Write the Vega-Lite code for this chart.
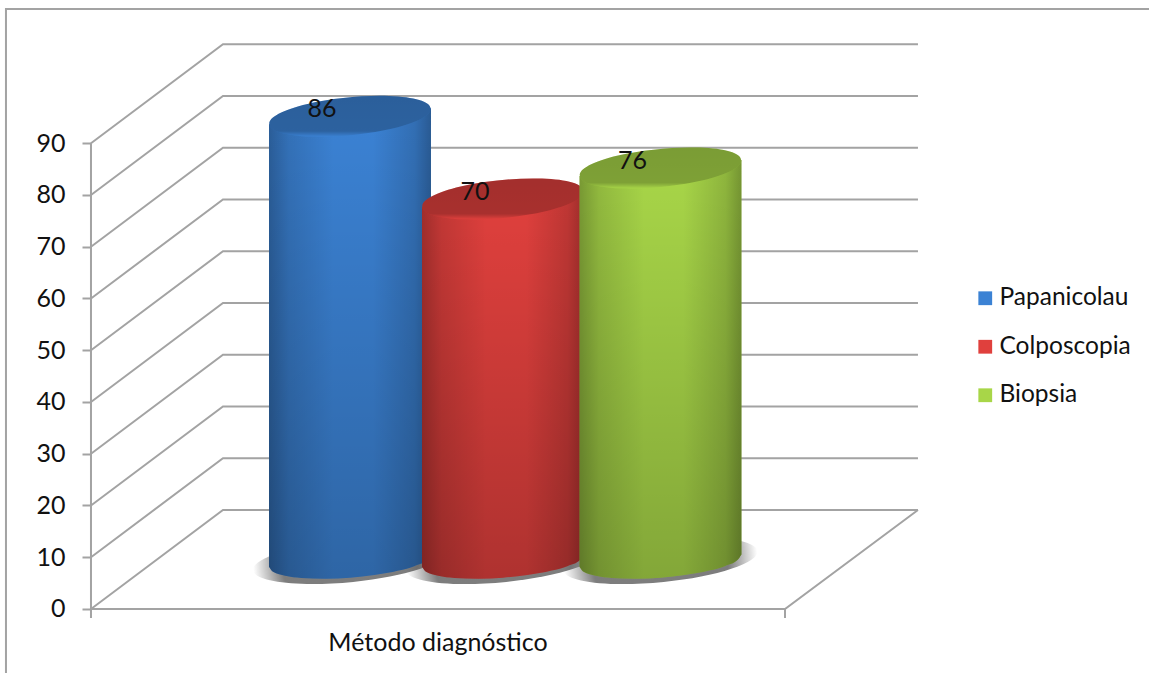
{"$schema":"https://vega.github.io/schema/vega-lite/v6.json","width":1149,"height":673,"padding":0,"autosize":{"type":"fit","contains":"padding"},"background":"white","config":{"view":{"stroke":null},"font":"Lato","legend":{"orient":"none","legendX":973,"legendY":286,"title":null,"symbolType":"square","symbolSize":190,"symbolOpacity":1,"symbolStrokeWidth":0,"labelFontSize":24.5,"labelFont":"Lato","labelColor":"#111111","labelOffset":2,"rowPadding":23.5}},"datasets":{"rejilla":[{"linea":"marco","pos":-12.25,"alto":-12.37},{"linea":"marco","pos":-12.25,"alto":115.94},{"linea":"marco","pos":152.45,"alto":115.94},{"linea":"eje","pos":0,"alto":90},{"linea":"eje","pos":0,"alto":-1.74},{"linea":"pie","pos":100,"alto":0},{"linea":"pie","pos":100,"alto":-1.74},{"linea":"suelo","pos":119.16,"alto":19.13},{"linea":"suelo","pos":100,"alto":0},{"linea":"suelo","pos":0,"alto":0},{"linea":"v0","pos":0,"alto":0},{"linea":"v0","pos":19.02,"alto":19.13},{"linea":"v0","pos":119.16,"alto":19.13},{"linea":"v10","pos":0,"alto":10},{"linea":"v10","pos":19.02,"alto":29.13},{"linea":"v10","pos":119.16,"alto":29.13},{"linea":"v20","pos":0,"alto":20},{"linea":"v20","pos":19.02,"alto":39.13},{"linea":"v20","pos":119.16,"alto":39.13},{"linea":"v30","pos":0,"alto":30},{"linea":"v30","pos":19.02,"alto":49.13},{"linea":"v30","pos":119.16,"alto":49.13},{"linea":"v40","pos":0,"alto":40},{"linea":"v40","pos":19.02,"alto":59.13},{"linea":"v40","pos":119.16,"alto":59.13},{"linea":"v50","pos":0,"alto":50},{"linea":"v50","pos":19.02,"alto":69.13},{"linea":"v50","pos":119.16,"alto":69.13},{"linea":"v60","pos":0,"alto":60},{"linea":"v60","pos":19.02,"alto":79.13},{"linea":"v60","pos":119.16,"alto":79.13},{"linea":"v70","pos":0,"alto":70},{"linea":"v70","pos":19.02,"alto":89.13},{"linea":"v70","pos":119.16,"alto":89.13},{"linea":"v80","pos":0,"alto":80},{"linea":"v80","pos":19.02,"alto":99.13},{"linea":"v80","pos":119.16,"alto":99.13},{"linea":"v90","pos":0,"alto":90},{"linea":"v90","pos":19.02,"alto":109.13},{"linea":"v90","pos":119.16,"alto":109.13}],"cilindros":[{"metodo":"Papanicolau","lado":-1,"pos":25.65,"alto":84.45,"base":-1.2},{"metodo":"Papanicolau","lado":-0.95,"pos":26.23,"alto":84.53,"base":-2.17},{"metodo":"Papanicolau","lado":-0.8,"pos":27.98,"alto":84.76,"base":-2.94},{"metodo":"Papanicolau","lado":-0.6,"pos":30.32,"alto":85.07,"base":-3.36},{"metodo":"Papanicolau","lado":-0.3,"pos":33.82,"alto":85.54,"base":-3.51},{"metodo":"Papanicolau","lado":0,"pos":37.32,"alto":86,"base":-3.3},{"metodo":"Papanicolau","lado":0.3,"pos":40.82,"alto":86.47,"base":-2.79},{"metodo":"Papanicolau","lado":0.6,"pos":44.32,"alto":86.93,"base":-1.92},{"metodo":"Papanicolau","lado":0.8,"pos":46.66,"alto":87.24,"base":-1.02},{"metodo":"Papanicolau","lado":0.95,"pos":48.41,"alto":87.47,"base":0.11},{"metodo":"Papanicolau","lado":1,"pos":48.99,"alto":87.55,"base":1.2},{"metodo":"Colposcopia","lado":-1,"pos":47.7,"alto":68.45,"base":-1.2},{"metodo":"Colposcopia","lado":-0.95,"pos":48.28,"alto":68.53,"base":-2.17},{"metodo":"Colposcopia","lado":-0.8,"pos":50.03,"alto":68.76,"base":-2.94},{"metodo":"Colposcopia","lado":-0.6,"pos":52.37,"alto":69.07,"base":-3.36},{"metodo":"Colposcopia","lado":-0.3,"pos":55.87,"alto":69.54,"base":-3.51},{"metodo":"Colposcopia","lado":0,"pos":59.37,"alto":70,"base":-3.3},{"metodo":"Colposcopia","lado":0.3,"pos":62.87,"alto":70.47,"base":-2.79},{"metodo":"Colposcopia","lado":0.6,"pos":66.37,"alto":70.93,"base":-1.92},{"metodo":"Colposcopia","lado":0.8,"pos":68.71,"alto":71.24,"base":-1.02},{"metodo":"Colposcopia","lado":0.95,"pos":70.46,"alto":71.47,"base":0.11},{"metodo":"Colposcopia","lado":1,"pos":71.04,"alto":71.55,"base":1.2},{"metodo":"Biopsia","lado":-1,"pos":70.39,"alto":74.45,"base":-1.2},{"metodo":"Biopsia","lado":-0.95,"pos":70.97,"alto":74.53,"base":-2.17},{"metodo":"Biopsia","lado":-0.8,"pos":72.72,"alto":74.76,"base":-2.94},{"metodo":"Biopsia","lado":-0.6,"pos":75.06,"alto":75.07,"base":-3.36},{"metodo":"Biopsia","lado":-0.3,"pos":78.56,"alto":75.54,"base":-3.51},{"metodo":"Biopsia","lado":0,"pos":82.06,"alto":76,"base":-3.3},{"metodo":"Biopsia","lado":0.3,"pos":85.56,"alto":76.47,"base":-2.79},{"metodo":"Biopsia","lado":0.6,"pos":89.06,"alto":76.93,"base":-1.92},{"metodo":"Biopsia","lado":0.8,"pos":91.4,"alto":77.24,"base":-1.02},{"metodo":"Biopsia","lado":0.95,"pos":93.15,"alto":77.47,"base":0.11},{"metodo":"Biopsia","lado":1,"pos":93.73,"alto":77.55,"base":1.2}]},"resolve":{"scale":{"y":"independent"}},"layer":[{"layer":[{"data":{"name":"rejilla"},"mark":{"type":"line","color":"#a3a3a3","strokeWidth":2,"clip":true},"encoding":{"detail":{"field":"linea"},"x":{"field":"pos","type":"quantitative","scale":{"domain":[-13.11,152.45],"nice":false,"zero":false},"axis":{"values":[0,100],"labels":false,"domain":false,"grid":false,"offset":-64,"tickSize":9,"tickWidth":2,"tickColor":"#a3a3a3","title":null}},"y":{"field":"alto","type":"quantitative","scale":{"domain":[-12.37,117.68],"nice":false,"zero":false},"axis":{"values":[0,10,20,30,40,50,60,70,80,90],"format":"d","title":null,"domain":false,"grid":false,"offset":-91,"tickSize":9,"tickWidth":2,"tickColor":"#a3a3a3","labelPadding":17,"labelFontSize":25,"labelFont":"Lato","labelColor":"#111111"}}}},{"data":{"values":[{"pos":50,"alto":-6.57,"rotulo":"Método diagnóstico"}]},"mark":{"type":"text","font":"Lato","fontSize":25,"color":"#111111","baseline":"middle","align":"center"},"encoding":{"text":{"field":"rotulo"},"x":{"field":"pos","type":"quantitative"},"y":{"field":"alto","type":"quantitative"}}}]},{"data":{"name":"cilindros"},"encoding":{"x":{"field":"pos","type":"quantitative","scale":{"domain":[-13.11,152.45],"nice":false,"zero":false},"axis":null},"y":{"field":"alto","type":"quantitative","scale":{"domain":[-21.74,108.5],"nice":false,"zero":false},"axis":null}},"layer":[{"transform":[{"filter":"datum.lado===0"}],"mark":{"type":"point","shape":"M-0.995,0.1A1,0.22,-5.6,1,1,0.995,-0.1A1,0.22,-5.6,1,1,-0.995,0.1Z","size":38000,"filled":true,"opacity":1,"fill":{"gradient":"radial","x1":0.5,"y1":0.5,"r1":0,"x2":0.5,"y2":0.5,"r2":0.5,"stops":[{"offset":0,"color":"rgba(70,70,70,0.7)"},{"offset":0.7,"color":"rgba(70,70,70,0.7)"},{"offset":1,"color":"rgba(70,70,70,0)"}]}},"encoding":{"y":{"datum":0,"type":"quantitative"}}},{"transform":[{"filter":"datum.metodo==='Papanicolau'"}],"layer":[{"mark":{"type":"area","orient":"vertical","interpolate":"monotone"},"encoding":{"y2":{"field":"base"},"color":{"field":"metodo","type":"nominal","scale":{"domain":["Papanicolau","Colposcopia","Biopsia"],"range":["#3b82d4","#e0403d","#a8d648"]},"legend":{}}}},{"mark":{"type":"area","orient":"vertical","interpolate":"monotone","fill":{"gradient":"linear","x1":0,"y1":0,"x2":1,"y2":0,"stops":[{"offset":0,"color":"rgba(0,0,0,0.28)"},{"offset":0.12,"color":"rgba(0,0,0,0.13)"},{"offset":0.4,"color":"rgba(0,0,0,0)"},{"offset":0.64,"color":"rgba(0,0,0,0)"},{"offset":0.9,"color":"rgba(0,0,0,0.15)"},{"offset":1,"color":"rgba(0,0,0,0.3)"}]}},"encoding":{"y2":{"field":"base"}}},{"mark":{"type":"area","orient":"vertical","interpolate":"monotone","fill":{"gradient":"linear","x1":0,"y1":0,"x2":0,"y2":1,"stops":[{"offset":0,"color":"rgba(0,0,0,0)"},{"offset":1,"color":"rgba(0,0,0,0.22)"}]}},"encoding":{"y2":{"field":"base"}}},{"transform":[{"filter":"datum.lado===0"}],"mark":{"type":"point","shape":"M-0.995,0.098A1,0.23,-5.6,1,1,0.995,-0.098A1,0.23,-5.6,1,1,-0.995,0.098Z","size":26244,"filled":true,"opacity":1},"encoding":{"color":{"field":"metodo","type":"nominal"}}},{"transform":[{"filter":"datum.lado===0"}],"mark":{"type":"point","shape":"M-0.995,0.098A1,0.23,-5.6,1,1,0.995,-0.098A1,0.23,-5.6,1,1,-0.995,0.098Z","size":26244,"filled":true,"opacity":1,"fill":{"gradient":"linear","x1":0,"y1":0,"x2":0,"y2":1,"stops":[{"offset":0,"color":"rgba(0,0,0,0.27)"},{"offset":0.86,"color":"rgba(0,0,0,0.25)"},{"offset":1,"color":"rgba(0,0,0,0)"}]}}}]},{"transform":[{"filter":"datum.metodo==='Colposcopia'"}],"layer":[{"mark":{"type":"area","orient":"vertical","interpolate":"monotone"},"encoding":{"y2":{"field":"base"},"color":{"field":"metodo","type":"nominal"}}},{"mark":{"type":"area","orient":"vertical","interpolate":"monotone","fill":{"gradient":"linear","x1":0,"y1":0,"x2":1,"y2":0,"stops":[{"offset":0,"color":"rgba(0,0,0,0.28)"},{"offset":0.12,"color":"rgba(0,0,0,0.13)"},{"offset":0.4,"color":"rgba(0,0,0,0)"},{"offset":0.64,"color":"rgba(0,0,0,0)"},{"offset":0.9,"color":"rgba(0,0,0,0.15)"},{"offset":1,"color":"rgba(0,0,0,0.3)"}]}},"encoding":{"y2":{"field":"base"}}},{"mark":{"type":"area","orient":"vertical","interpolate":"monotone","fill":{"gradient":"linear","x1":0,"y1":0,"x2":0,"y2":1,"stops":[{"offset":0,"color":"rgba(0,0,0,0)"},{"offset":1,"color":"rgba(0,0,0,0.22)"}]}},"encoding":{"y2":{"field":"base"}}},{"transform":[{"filter":"datum.lado===0"}],"mark":{"type":"point","shape":"M-0.995,0.098A1,0.23,-5.6,1,1,0.995,-0.098A1,0.23,-5.6,1,1,-0.995,0.098Z","size":26244,"filled":true,"opacity":1},"encoding":{"color":{"field":"metodo","type":"nominal"}}},{"transform":[{"filter":"datum.lado===0"}],"mark":{"type":"point","shape":"M-0.995,0.098A1,0.23,-5.6,1,1,0.995,-0.098A1,0.23,-5.6,1,1,-0.995,0.098Z","size":26244,"filled":true,"opacity":1,"fill":{"gradient":"linear","x1":0,"y1":0,"x2":0,"y2":1,"stops":[{"offset":0,"color":"rgba(0,0,0,0.27)"},{"offset":0.86,"color":"rgba(0,0,0,0.25)"},{"offset":1,"color":"rgba(0,0,0,0)"}]}}}]},{"transform":[{"filter":"datum.metodo==='Biopsia'"}],"layer":[{"mark":{"type":"area","orient":"vertical","interpolate":"monotone"},"encoding":{"y2":{"field":"base"},"color":{"field":"metodo","type":"nominal"}}},{"mark":{"type":"area","orient":"vertical","interpolate":"monotone","fill":{"gradient":"linear","x1":0,"y1":0,"x2":1,"y2":0,"stops":[{"offset":0,"color":"rgba(0,0,0,0.28)"},{"offset":0.12,"color":"rgba(0,0,0,0.13)"},{"offset":0.4,"color":"rgba(0,0,0,0)"},{"offset":0.64,"color":"rgba(0,0,0,0)"},{"offset":0.9,"color":"rgba(0,0,0,0.15)"},{"offset":1,"color":"rgba(0,0,0,0.3)"}]}},"encoding":{"y2":{"field":"base"}}},{"mark":{"type":"area","orient":"vertical","interpolate":"monotone","fill":{"gradient":"linear","x1":0,"y1":0,"x2":0,"y2":1,"stops":[{"offset":0,"color":"rgba(0,0,0,0)"},{"offset":1,"color":"rgba(0,0,0,0.22)"}]}},"encoding":{"y2":{"field":"base"}}},{"transform":[{"filter":"datum.lado===0"}],"mark":{"type":"point","shape":"M-0.995,0.098A1,0.23,-5.6,1,1,0.995,-0.098A1,0.23,-5.6,1,1,-0.995,0.098Z","size":26244,"filled":true,"opacity":1},"encoding":{"color":{"field":"metodo","type":"nominal"}}},{"transform":[{"filter":"datum.lado===0"}],"mark":{"type":"point","shape":"M-0.995,0.098A1,0.23,-5.6,1,1,0.995,-0.098A1,0.23,-5.6,1,1,-0.995,0.098Z","size":26244,"filled":true,"opacity":1,"fill":{"gradient":"linear","x1":0,"y1":0,"x2":0,"y2":1,"stops":[{"offset":0,"color":"rgba(0,0,0,0.27)"},{"offset":0.86,"color":"rgba(0,0,0,0.25)"},{"offset":1,"color":"rgba(0,0,0,0)"}]}}}]},{"transform":[{"filter":"datum.lado===0"}],"mark":{"type":"text","font":"Lato","fontSize":25,"color":"#111111","dx":-28,"dy":-7,"baseline":"middle","align":"center"},"encoding":{"text":{"field":"alto","type":"quantitative","format":"d"}}}]}]}
